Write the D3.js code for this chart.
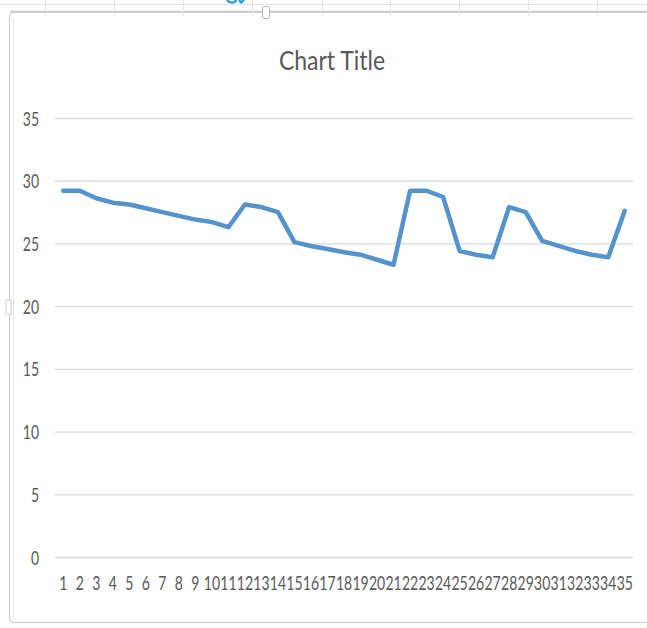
<!DOCTYPE html>
<html>
<head>
<meta charset="utf-8">
<script src="https://cdn.jsdelivr.net/npm/d3@7"></script>
<style>
  html, body { margin: 0; padding: 0; background: #fff; }
  svg { display: block; }
  text { font-family: Lato, "Liberation Sans", sans-serif; fill: #595959; }
</style>
</head>
<body>
<svg id="chart" width="647" height="628"></svg>
<script>
// ---- data ----
const categories = ["1","2","3","4","5","6","7","8","9","10","11","12","13","14","15","16","17","18","19","20","21","22","23","24","25","26","27","28","29","30","31","32","33","34","35"];
const values = [29.2, 29.2, 28.6, 28.25, 28.1, 27.8, 27.5, 27.2, 26.9, 26.7, 26.3, 28.1, 27.9, 27.5, 25.1, 24.8, 24.55, 24.3, 24.1, 23.7, 23.3, 29.2, 29.2, 28.7, 24.4, 24.1, 23.9, 27.9, 27.5, 25.2, 24.8, 24.4, 24.1, 23.9, 27.6];
const yTicks = [0, 5, 10, 15, 20, 25, 30, 35];
const title = "Chart Title";

const svg = d3.select("#chart");

// ---- spreadsheet background behind the chart ----
const bg = svg.append("g");
bg.append("line").attr("x1", 0).attr("x2", 647).attr("y1", 4.5).attr("y2", 4.5).attr("stroke", "#e3e3e3");
bg.append("line").attr("x1", 10).attr("x2", 647).attr("y1", 11.5).attr("y2", 11.5).attr("stroke", "#c9c9c9").attr("stroke-width", 1.5);
[45, 114, 183, 252, 322, 390, 459, 528, 597].forEach(x => {
  bg.append("line").attr("x1", x + 0.5).attr("x2", x + 0.5).attr("y1", 0).attr("y2", 16).attr("stroke", "#e6e6e6");
});
// bottom of a cut-off blue heading above the chart
bg.append("path").attr("d", "M227,0 Q229,3 233,2.5 Q236,2 236,0 M239,0 L241,2.5 L244,0")
  .attr("fill", "none").attr("stroke", "#1e9ad6").attr("stroke-width", 2.2);

// ---- chart frame ----
svg.append("path")
  .attr("d", "M647,12.5 L14,12.5 Q9.5,12.5 9.5,17 L9.5,617 Q9.5,622.5 14,622.5 L647,622.5")
  .attr("fill", "none").attr("stroke", "#cfcfcf").attr("stroke-width", 1.2);
svg.append("line").attr("x1", 13.5).attr("x2", 13.5).attr("y1", 18).attr("y2", 618).attr("stroke", "#e4e4e4");
svg.append("rect").attr("x", 262.5).attr("y", 6.5).attr("width", 7).attr("height", 12).attr("rx", 1.5)
  .attr("fill", "#fff").attr("stroke", "#b8b8b8");
svg.append("rect").attr("x", 6).attr("y", 300).attr("width", 5).attr("height", 14).attr("fill", "#fff").attr("stroke", "#d0d0d0");

// ---- scales ----
const x = d3.scaleBand().domain(categories).range([55, 633]).padding(0);
const y = d3.scaleLinear().domain([0, 35]).range([557, 118]);

// ---- y axis with gridlines ----
const yAxis = svg.append("g").attr("transform", "translate(55,0)")
  .call(d3.axisLeft(y).tickValues(yTicks).tickSize(-578).tickPadding(0));
yAxis.select(".domain").remove();
yAxis.selectAll(".tick line").attr("stroke", "#d9d9d9").attr("stroke-width", 1.3);
yAxis.selectAll(".tick text")
  .attr("x", null).attr("dy", null)
  .attr("text-anchor", "end")
  .attr("font-size", 14)
  .attr("transform", "translate(-16,7) scale(1,1.4)")
  .style("font-family", "Lato, 'Liberation Sans', sans-serif")
  .style("fill", "#595959");

// ---- x axis ----
const xAxis = svg.append("g").attr("transform", "translate(0,557)")
  .call(d3.axisBottom(x).tickSize(0));
xAxis.select(".domain").remove();
xAxis.selectAll(".tick text")
  .attr("y", null).attr("dy", null)
  .attr("font-size", 14)
  .attr("transform", "translate(0,33) scale(1,1.4)")
  .style("font-family", "Lato, 'Liberation Sans', sans-serif")
  .style("fill", "#595959");

// ---- line ----
const line = d3.line()
  .x((d, i) => x(categories[i]) + x.bandwidth() / 2)
  .y(d => y(d));
svg.append("path")
  .datum(values)
  .attr("d", line)
  .attr("fill", "none")
  .attr("stroke", "#5593cc")
  .attr("stroke-width", 4.5)
  .attr("stroke-linejoin", "round")
  .attr("stroke-linecap", "round");

// ---- title ----
svg.append("text")
  .attr("text-anchor", "middle")
  .attr("font-size", 23)
  .attr("transform", "translate(332,69.5) scale(1,1.2)")
  .style("fill", "#595959")
  .text(title);
</script>
</body>
</html>
